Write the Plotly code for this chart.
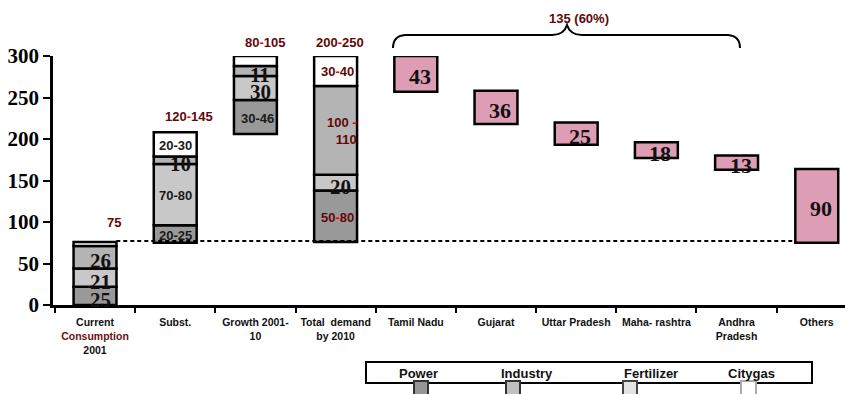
import plotly.graph_objects as go

# ---------------- data ----------------
categories = [
    "Current<br><span style='color:#6e1010'>Consumption</span><br>2001",
    "Subst.",
    "Growth 2001-<br>10",
    "Total  demand<br>by 2010",
    "Tamil Nadu",
    "Gujarat",
    "Uttar Pradesh",
    "Maha- rashtra",
    "Andhra<br>Pradesh",
    "Others",
]

# stacked (left) columns, bottom -> top layers
stack_x = [0, 1, 2, 3]
stack_start = [0, 75, 206, 76]
layer_dark = [22, 21, 41, 62]
layer_light = [22, 74, 29, 19]
layer_mid = [27, 9, 12, 107]
layer_white = [5, 29, 12, 36]
labels_dark = ["25", "20-25", "30-46", "50-80"]
labels_light = ["21", "70-80", "30", "20"]
labels_mid = ["26", "10", "11", "100 -<br>110"]
labels_white = ["", "20-30", "", "30-40"]

# state split (floating pink boxes)
state_x = [4, 5, 6, 7, 8, 9]
state_base = [257, 218, 193, 177, 163, 75]
state_height = [43, 40, 27, 19, 17, 89]
state_labels = ["43", "36", "25", "18", "13", "90"]

# range labels above columns
range_labels = ["75", "120-145", "80-105", "200-250"]
range_label_x = [0.24, 1.17, 2.12, 3.05]
range_label_y = [99, 227, 316.5, 316.5]
share_label = "135 (60%)"
share_label_x = 6.03
share_label_y = 345
baseline_value = 77

y_ticks = [0, 50, 100, 150, 200, 250, 300]
legend_items = ["Power", "Industry", "Fertilizer", "Citygas"]

# ---------------- styles ----------------
W, H = 845, 394
ML, MR, MT, MB = 53, 0, 56, 89
XMIN, XMAX = -0.524, 9.352
YMIN, YMAX = 0, 300
SERIF = "Liberation Serif, Times New Roman, serif"
SANS = "Liberation Sans, Arial, sans-serif"
DARKRED = "#620808"
C_DARK, C_LIGHT, C_MID, C_WHITE = "#999999", "#c8c8c8", "#b4b4b4", "#ffffff"
PINK = "#dd9db5"
BAR_W = 0.535

PW = W - ML - MR
PH = H - MT - MB


def px_x(px):
    return (px - ML) / PW


def px_y(py):
    return (H - MB - py) / PH


def data_to_paper_x(v):
    return (v - XMIN) / (XMAX - XMIN)


def data_to_paper_y(v):
    return (v - YMIN) / (YMAX - YMIN)


def red_dash(s, base_color):
    s = s.replace("-", "<span style='color:#ff0000'>-</span>")
    return "<span style='color:%s'>%s</span>" % (base_color, s)


fig = go.Figure()

layers = [layer_dark, layer_light, layer_mid, layer_white]
layer_labels = [labels_dark, labels_light, labels_mid, labels_white]
layer_colors = [C_DARK, C_LIGHT, C_MID, C_WHITE]
layer_names = ["Power", "Industry", "Fertilizer", "Citygas"]

annotations = []
cur = list(stack_start)
for vals, labs, col, name in zip(layers, layer_labels, layer_colors, layer_names):
    fig.add_trace(go.Bar(
        x=stack_x, y=vals, base=cur, width=BAR_W, name=name,
        marker=dict(color=col, line=dict(color="black", width=2.5)),
        showlegend=False, hoverinfo="skip",
    ))
    for i, (xv, b, v, lab) in enumerate(zip(stack_x, cur, vals, labs)):
        if not lab:
            continue
        mid = b + v / 2
        if "-" in lab:
            color = DARKRED if i == 3 else "#1a1a1a"
            txt = red_dash(lab, color) if i == 3 else lab
            multiline = "<br>" in lab
            annotations.append(dict(
                x=xv, y=mid, text="<b>%s</b>" % txt, showarrow=False,
                align="right" if multiline else "center",
                xshift=(6 if multiline else 2) if i != 1 else 0, yshift=-1,
                font=dict(family=SANS, size=13, color=color)))
        else:
            annotations.append(dict(
                x=xv, y=mid, text="<b>%s</b>" % lab, showarrow=False,
                xshift=5, yshift=-4,
                font=dict(family=SERIF, size=21, color="#111111")))
    cur = [c + v for c, v in zip(cur, vals)]

fig.add_trace(go.Bar(
    x=state_x, y=state_height, base=state_base, width=BAR_W,
    marker=dict(color=PINK, line=dict(color="black", width=2.5)),
    showlegend=False, hoverinfo="skip",
))
for xv, b, v, lab in zip(state_x, state_base, state_height, state_labels):
    annotations.append(dict(
        x=xv, y=b + v / 2, text="<b>%s</b>" % lab, showarrow=False,
        xshift=4, yshift=-3,
        font=dict(family=SERIF, size=22, color="#111111")))

for lab, xv, yv in zip(range_labels, range_label_x, range_label_y):
    annotations.append(dict(
        x=data_to_paper_x(xv), y=data_to_paper_y(yv), xref="paper", yref="paper",
        xanchor="center", yanchor="middle",
        text="<b>%s</b>" % red_dash(lab, DARKRED), showarrow=False,
        font=dict(family=SANS, size=13, color=DARKRED)))

annotations.append(dict(
    x=data_to_paper_x(share_label_x), y=data_to_paper_y(share_label_y),
    xref="paper", yref="paper", xanchor="center", yanchor="middle",
    text="<b>%s</b>" % share_label, showarrow=False,
    font=dict(family=SANS, size=13, color=DARKRED)))

# legend texts
leg_px = [418, 527, 651, 751]
for lab, lx in zip(legend_items, leg_px):
    annotations.append(dict(
        x=px_x(lx), y=px_y(373), xref="paper", yref="paper", text="<b>%s</b>" % lab,
        xanchor="center", yanchor="middle",
        showarrow=False, font=dict(family=SANS, size=13, color="#111111")))

shapes = []
# dashed baseline
shapes.append(dict(type="line", xref="x", yref="y", x0=0.265, x1=8.74,
                   y0=baseline_value, y1=baseline_value,
                   line=dict(color="black", width=2, dash="4px,3px"), layer="above"))


# brace
def P(px, py):
    return "%.5f,%.5f" % (px_x(px), px_y(py))


brace = ("M " + P(393, 48) + " Q " + P(393, 36) + " " + P(405, 35) +
         " L " + P(552, 35) + " Q " + P(564, 35) + " " + P(567, 25) +
         " Q " + P(570, 35) + " " + P(582, 35) +
         " L " + P(728, 35) + " Q " + P(740, 36) + " " + P(740, 48))
shapes.append(dict(type="path", xref="paper", yref="paper", path=brace,
                   line=dict(color="black", width=2)))

# legend box and swatches
shapes.append(dict(type="rect", xref="paper", yref="paper",
                   x0=px_x(366), x1=px_x(812), y0=px_y(383), y1=px_y(362),
                   line=dict(color="black", width=2), fillcolor="white"))
sw = [(414, 428, "#969696", "#333333"), (506, 520, "#c0c0c0", "#333333"),
      (623, 637, "#e3e3e3", "#444444"), (741, 756, "#ffffff", "#aaaaaa")]
for x0, x1, fc, lc in sw:
    shapes.append(dict(type="rect", xref="paper", yref="paper",
                       x0=px_x(x0), x1=px_x(x1), y0=px_y(396), y1=px_y(381),
                       line=dict(color=lc, width=2), fillcolor=fc))

fig.update_layout(
    width=W, height=H,
    margin=dict(l=ML, r=MR, t=MT, b=MB),
    paper_bgcolor="white", plot_bgcolor="white",
    barmode="overlay",
    showlegend=False,
    annotations=annotations,
    shapes=shapes,
    xaxis=dict(
        range=[XMIN, XMAX], tickmode="array", tickvals=list(range(len(categories))),
        ticktext=["<b>%s</b>" % c for c in categories], ticks="",
        ticklabelstandoff=6,
        tickfont=dict(family=SANS, size=10.5, color="#111111"),
        showline=True, linecolor="black", linewidth=2.5, showgrid=False, zeroline=False,
        minor=dict(tickmode="array", tickvals=[i + 0.5 for i in range(-1, 10)],
                   ticks="outside", ticklen=5, tickwidth=2, tickcolor="black"),
    ),
    yaxis=dict(
        range=[YMIN, YMAX], tickmode="array", tickvals=y_ticks,
        ticks="outside", ticklen=7, tickwidth=2, tickcolor="black",
        tickfont=dict(family=SERIF, size=21, color="black", weight="bold"),
        showline=True, linecolor="black", linewidth=2.5, showgrid=False, zeroline=False,
    ),
)

fig.write_html("out.html")
